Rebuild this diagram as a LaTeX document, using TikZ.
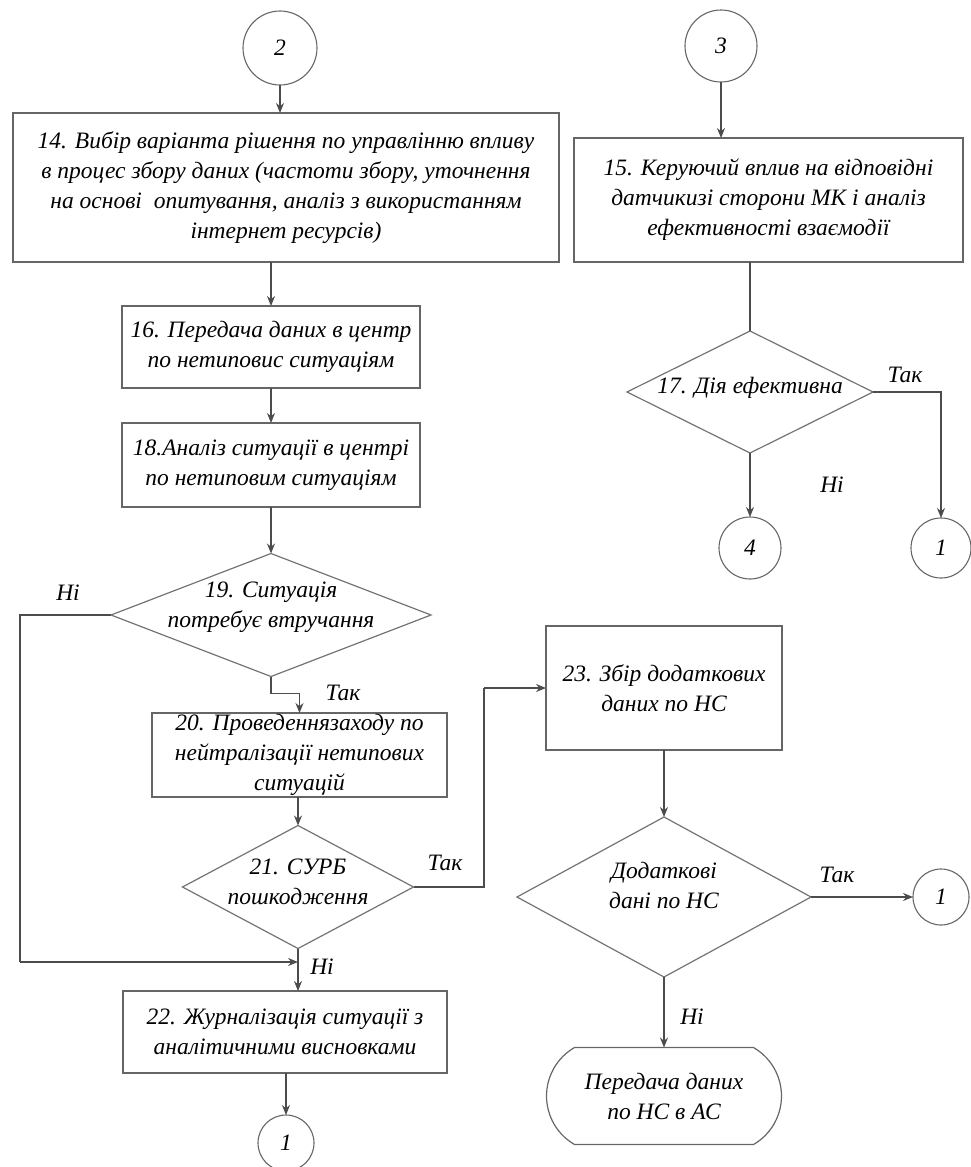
\documentclass[tikz,border=0pt]{standalone}
\usepackage{fontspec}
\setmainfont{Liberation Serif}
\usetikzlibrary{shapes.geometric,shapes.misc,arrows.meta,calc}
\begin{document}
\begin{tikzpicture}[x=1pt,y=-1pt,
  every node/.style={font=\fontsize{23.5}{30}\selectfont\itshape},
  box/.style={draw=black!60, line width=1.5pt, rectangle, align=center, inner sep=0pt, outer sep=0pt},
  dia/.style={draw=black!55, line width=1.2pt, diamond, inner sep=0pt, outer sep=0pt},
  conn/.style={draw=black!60, line width=1.1pt, circle, inner sep=0pt, outer sep=0pt},
  term/.style={draw=black!60, line width=1.2pt, rounded rectangle, rounded rectangle arc length=120, align=center, inner sep=0pt, outer sep=0pt},
  ln/.style={draw=black!70, line width=1.3pt},
  arr/.style={ln, -{Stealth[length=10pt,width=8pt]}},
  lbl/.style={inner sep=0pt}
]
\useasboundingbox (0,0) rectangle (971,1167);

% left column
\node[conn, minimum size=74pt] (c2) at (280,48) {2};
\node[box, minimum width=546pt, minimum height=149pt] (b14) at (286,187.5)
  {14. Вибір варіанта рішення по управлінню впливу\\в процес збору даних (частоти збору, уточнення\\на основі\ \ опитування, аналіз з використанням\\інтернет ресурсів)};
\node[box, minimum width=298pt, minimum height=82pt] (b16) at (271,347)
  {16. Передача даних в центр\\по нетиповис ситуаціям};
\node[box, minimum width=298pt, minimum height=84pt] (b18) at (271,465)
  {18.Аналіз ситуації в центрі\\по нетиповим ситуаціям};
\node[dia, minimum width=320pt, minimum height=123pt,
  label={[align=center, yshift=8pt]center:{19. Ситуація\\потребує втручання}}] (d19) at (271,615) {};
\node[box, minimum width=295pt, minimum height=84pt] (b20) at (299.5,755)
  {20. Проведеннязаходу по\\нейтралізації нетипових\\ситуацій};
\node[dia, minimum width=231pt, minimum height=123pt,
  label={[align=center, yshift=5pt]center:{21. СУРБ\\пошкодження}}] (d21) at (298,887) {};
\node[box, minimum width=324pt, minimum height=82pt] (b22) at (285,1032)
  {22. Журналізація ситуації з\\аналітичними висновками};
\node[conn, minimum size=56pt] (c1a) at (286,1143) {1};

% right column
\node[conn, minimum size=72pt] (c3) at (721,46) {3};
\node[box, minimum width=389pt, minimum height=124pt] (b15) at (768.5,200)
  {15. Керуючий вплив на відповідні\\датчикизі сторони МК і аналіз\\ефективності взаємодії};
\node[dia, minimum width=246pt, minimum height=122pt,
  label={[align=center, yshift=4pt]center:{17. Дія ефективна}}] (d17) at (750,392) {};
\node[conn, minimum size=62pt] (c4) at (750,548) {4};
\node[conn, minimum size=60pt] (c1c) at (941,548) {1};

\node[box, minimum width=236pt, minimum height=124pt] (b23) at (664,688)
  {23. Збір додаткових\\даних по НС};
\node[dia, minimum width=294pt, minimum height=160pt,
  label={[align=center, yshift=12pt]center:{Додаткові\\дані по НС}}] (d24) at (664,897) {};
\node[conn, minimum size=56pt] (c1b) at (941,897) {1};
\node[term, minimum width=235pt, minimum height=97pt] (tm) at (664,1096)
  {Передача даних\\по НС в АС};

\coordinate (lft) at (20,962);
\coordinate (m) at (298,962);
\coordinate (rt) at (484,688);

% connectors
\draw[arr] (c2) -- (c2 |- b14.north);
\draw[arr] (b16.north |- b14.south) -- (b16.north);
\draw[arr] (b16.south) -- (b18.north);
\draw[arr] (b18.south) -- (d19.north);
\draw[arr] (d19.south) -- ++(0,17) -| (b20.north);
\draw[ln] (d19.west) -| (lft);
\draw[arr] (lft) -- (m);
\draw[arr] (b20.south -| d21.north) -- (d21.north);
\draw[arr] (d21.south) -- (d21.south |- b22.north);
\draw[ln] (d21.east) -| (rt);
\draw[arr] (rt) -- (b23.west);
\draw[arr] (c1a.north |- b22.south) -- (c1a.north);

\draw[arr] (c3) -- (c3 |- b15.north);
\draw[ln] (d17.north |- b15.south) -- (d17.north);
\draw[arr] (d17.east) -| (c1c.north);
\draw[arr] (d17.south) -- (c4.north);
\draw[arr] (b23.south) -- (d24.north);
\draw[arr] (d24.east) -- (c1b.west);
\draw[arr] (d24.south) -- (tm.north);

% branch labels
\node[lbl] (l1) at (905,375) {Так};
\node[lbl] (l2) at (832,485) {Ні};
\node[lbl] (l3) at (68,593) {Ні};
\node[lbl] (l4) at (343,693) {Так};
\node[lbl] (l5) at (445,863) {Так};
\node[lbl] (l6) at (322,967) {Ні};
\node[lbl] (l7) at (837,875) {Так};
\node[lbl] (l8) at (692,1017) {Ні};
\end{tikzpicture}
\end{document}
